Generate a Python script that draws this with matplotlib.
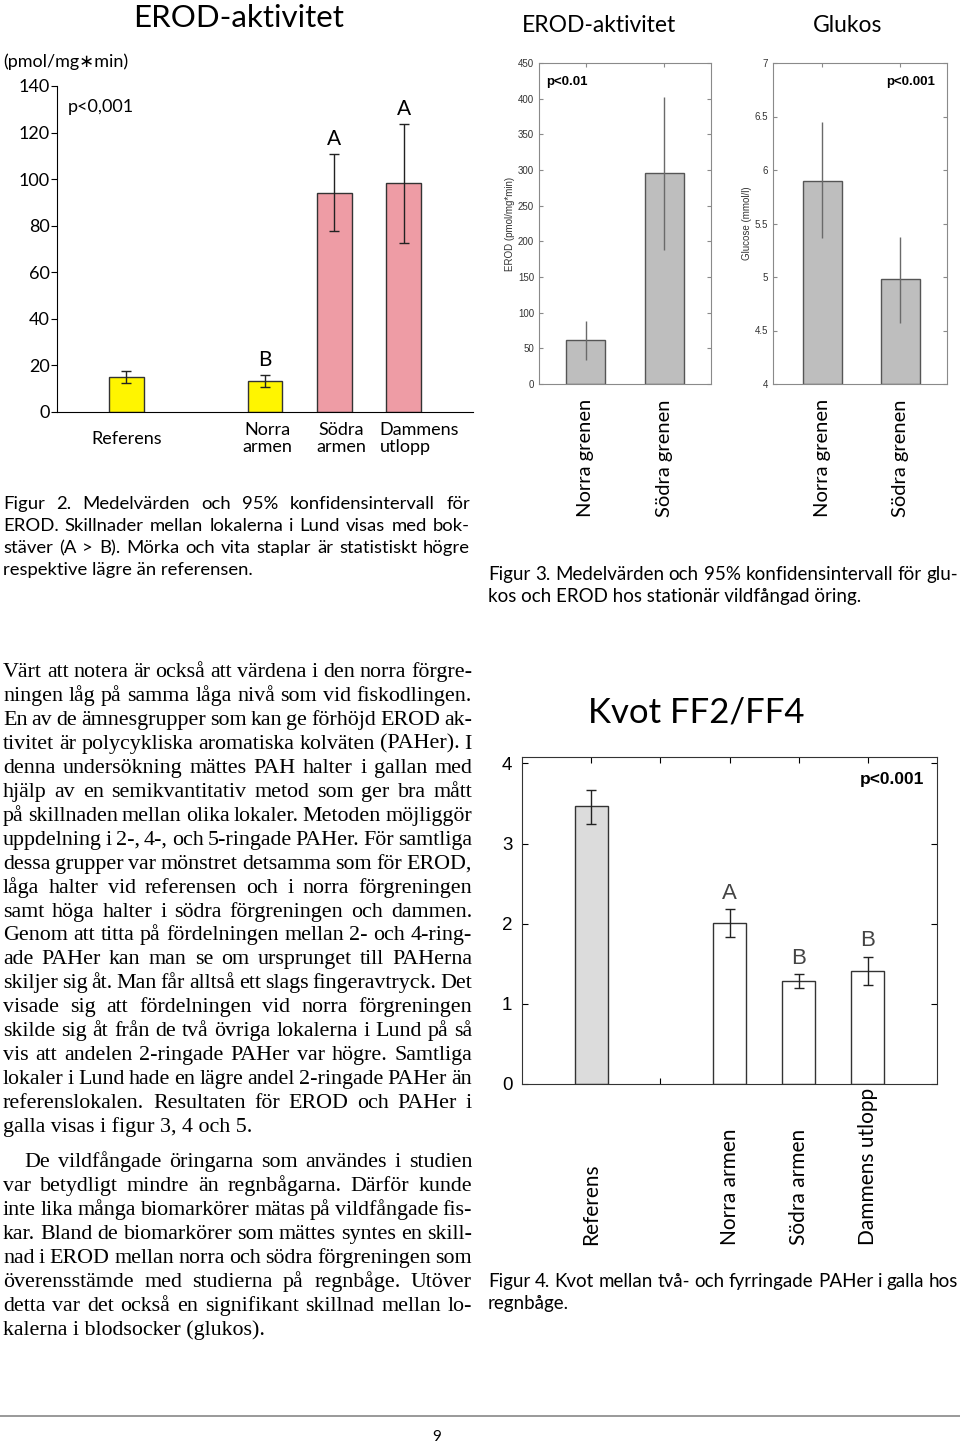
import matplotlib
matplotlib.use('Agg')
import matplotlib.pyplot as plt
from matplotlib.lines import Line2D

W, H = 960, 1446
fig = plt.figure(figsize=(W / 100, H / 100), dpi=100)

SANS = ['Lato', 'DejaVu Sans']
SERIF = ['Liberation Serif', 'DejaVu Serif']
ARIAL = ['Liberation Sans', 'DejaVu Sans']

# ---- data -------------------------------------------------------------
# Figur 2: EROD-aktivitet (pmol/mg*min)
fig2_pos = [0, 2, 3, 4]
fig2_mean = [15.2, 13.2, 94.2, 98.2]
fig2_lo = [12.6, 10.9, 77.9, 72.4]
fig2_hi = [17.6, 15.8, 110.9, 123.5]
fig2_letters = ['', 'B', 'A', 'A']
fig2_labels = ['Referens', 'Norra\narmen', 'Södra\narmen', 'Dammens\nutlopp']

# Figur 3: EROD och glukos, vildfångad öring
fig3_pos = [1, 2]
fig3_labels = ['Norra grenen', 'Södra grenen']
erod_mean = [61.3, 295.8]
erod_lo = [34.2, 188.4]
erod_hi = [88.3, 402.3]
glu_mean = [5.90, 4.98]
glu_lo = [5.36, 4.57]
glu_hi = [6.45, 5.37]

# Figur 4: Kvot FF2/FF4
fig4_pos = [0, 2, 3, 4]
fig4_mean = [3.47, 2.01, 1.28, 1.41]
fig4_lo = [3.25, 1.83, 1.20, 1.24]
fig4_hi = [3.67, 2.18, 1.37, 1.59]
fig4_letters = ['', 'A', 'B', 'B']
fig4_labels = ['Referens', 'Norra armen', 'Södra armen', 'Dammens utlopp']


def px_axes(l, t, r, b):
    return fig.add_axes([l / W, 1 - b / H, (r - l) / W, (b - t) / H])


def ptext(x, y, s, **kw):
    return fig.text(x / W, 1 - y / H, s, **kw)


renderer = fig.canvas.get_renderer()


def justify(s, x0, x1, y, **kw):
    words = s.split()
    objs = [ptext(0, y, w, va='baseline', ha='left', **kw) for w in words]
    widths = [o.get_window_extent(renderer).width for o in objs]
    gap = (x1 - x0 - sum(widths)) / max(len(words) - 1, 1)
    x = x0
    for o, w in zip(objs, widths):
        o.set_x(x / W)
        x += w + gap


def errs(mean, lo, hi):
    return [[m - l for m, l in zip(mean, lo)], [h - m for m, h in zip(mean, hi)]]


# ---- Figur 2 ------------------------------------------------------------
ax2 = px_axes(57, 86, 473, 412)
colors2 = ['#FFF500', '#FFF500', '#EE9CA5', '#EE9CA5']
ax2.bar(fig2_pos, fig2_mean, width=0.5, color=colors2, edgecolor='#333333', linewidth=1)
ax2.errorbar(fig2_pos, fig2_mean, yerr=errs(fig2_mean, fig2_lo, fig2_hi), fmt='none',
             ecolor='#222222', elinewidth=1, capsize=3.5)
for p, h, t in zip(fig2_pos, fig2_hi, fig2_letters):
    ax2.text(p, h + 6.5, t, ha='center', va='center', fontsize=15, family=SANS)
ax2.set_xlim(-1, 5)
ax2.set_ylim(0, 140)
ax2.set_yticks(range(0, 141, 20))
ax2.set_xticks([])
for s in ['top', 'right']:
    ax2.spines[s].set_visible(False)
ax2.tick_params(axis='y', labelsize=13, length=4, pad=1)
for lab in ax2.get_yticklabels():
    lab.set_family(SANS)
ax2.text(-0.85, 131, 'p<0,001', fontsize=13, family=SANS, va='center')
lab_off = [0, 0.03, 0.1, -0.35]
lab_y = [-0.083, -0.032, -0.032, -0.032]
lab_ha = ['center', 'center', 'center', 'left']
for p, s, o, yy, ha in zip(fig2_pos, fig2_labels, lab_off, lab_y, lab_ha):
    ax2.text(p + o, yy, s, transform=ax2.get_xaxis_transform(), ha=ha, va='top' if '\n' in s else 'center',
             fontsize=13, family=SANS, linespacing=1.05)
ptext(133, 27, 'EROD-aktivitet', fontsize=22.5, family=SANS, va='baseline')
ptext(3, 67, '(pmol/mg\u2217min)', fontsize=13, family=SANS, va='baseline')

cap2_kw = dict(fontsize=13.3, family=SANS)
cap_kw = dict(fontsize=13.5, family=SANS)
cap2 = ['Figur 2. Medelvärden och 95% konfidensintervall för',
        'EROD. Skillnader mellan lokalerna i Lund visas med bok-',
        'stäver (A > B). Mörka och vita staplar är statistiskt högre']
for i, line in enumerate(cap2):
    justify(line, 3, 470, 509 + 22 * i, **cap2_kw)
ptext(3, 575, 'respektive lägre än referensen.', va='baseline', **cap2_kw)

# ---- Figur 3 ------------------------------------------------------------
def matlab_style(ax):
    for s in ax.spines.values():
        s.set_color('#8a8a8a')
    ax.set_axisbelow(True)
    ax.tick_params(direction='in', top=True, right=True, length=3, labelsize=7,
                   color='#8a8a8a', labelcolor='#333333')
    ax.set_xticklabels([])


axE = px_axes(539, 63, 711, 384)
axE.bar(fig3_pos, erod_mean, width=0.5, color='#BEBEBE', edgecolor='#555555', linewidth=1)
axE.errorbar(fig3_pos, erod_mean, yerr=errs(erod_mean, erod_lo, erod_hi), fmt='none',
             ecolor='#6a6a6a', elinewidth=1, capsize=0)
axE.set_xlim(0.4, 2.6)
axE.set_ylim(0, 450)
axE.set_yticks(range(0, 451, 50))
axE.set_xticks(fig3_pos)
matlab_style(axE)
axE.set_ylabel('EROD (pmol/mg*min)', fontsize=7, family=ARIAL, color='#333333', labelpad=2)
axE.text(0.04, 0.94, 'p<0.01', transform=axE.transAxes, fontsize=9.5, fontweight='bold',
         family=ARIAL, va='center')

axG = px_axes(773, 63, 947, 384)
axG.bar(fig3_pos, [m - 4 for m in glu_mean], bottom=4, width=0.5, color='#BEBEBE',
        edgecolor='#555555', linewidth=1)
axG.errorbar(fig3_pos, glu_mean, yerr=errs(glu_mean, glu_lo, glu_hi), fmt='none',
             ecolor='#6a6a6a', elinewidth=1, capsize=0)
axG.set_xlim(0.37, 2.6)
axG.set_ylim(4, 7)
axG.set_yticks([4, 4.5, 5, 5.5, 6, 6.5, 7])
axG.set_yticklabels(['4', '4.5', '5', '5.5', '6', '6.5', '7'])
axG.set_xticks(fig3_pos)
matlab_style(axG)
axG.set_ylabel('Glucose (mmol/l)', fontsize=7, family=ARIAL, color='#333333', labelpad=2)
axG.text(0.93, 0.94, 'p<0.001', transform=axG.transAxes, fontsize=9.5, fontweight='bold',
         family=ARIAL, va='center', ha='right')

for ax in (axE, axG):
    for lab in ax.get_yticklabels():
        lab.set_family(ARIAL)
    for p, s in zip(fig3_pos, fig3_labels):
        ax.text(p, -133 / 321, s, transform=ax.get_xaxis_transform(), rotation=90,
                ha='center', va='bottom', fontsize=14.5, family=SANS)

ptext(599, 32, 'EROD-aktivitet', fontsize=16.5, family=SANS, ha='center', va='baseline')
ptext(848, 32, 'Glukos', fontsize=16.5, family=SANS, ha='center', va='baseline')
justify('Figur 3. Medelvärden och 95% konfidensintervall för glu-', 488, 958, 580, **cap_kw)
ptext(488, 602, 'kos och EROD hos stationär vildfångad öring.', va='baseline', **cap_kw)

# ---- Figur 4 ------------------------------------------------------------
ax4 = px_axes(522, 757, 937, 1084)
ax4.bar(fig4_pos, fig4_mean, width=0.48, color=['#DCDCDC', 'white', 'white', 'white'],
        edgecolor='#333333', linewidth=1)
ax4.errorbar(fig4_pos, fig4_mean, yerr=errs(fig4_mean, fig4_lo, fig4_hi), fmt='none',
             ecolor='#222222', elinewidth=1, capsize=3.5)
for p, h, t in zip(fig4_pos, fig4_hi, fig4_letters):
    ax4.text(p, h + 0.2, t, ha='center', va='center', fontsize=16, family=ARIAL, color='#444444')
ax4.set_xlim(-1, 5)
ax4.set_ylim(0, 4.08)
ax4.set_yticks(range(0, 5))
ax4.set_xticks(range(0, 5))
ax4.set_xticklabels([])
ax4.set_axisbelow(True)
for s in ax4.spines.values():
    s.set_color('#333333')
ax4.tick_params(direction='in', top=True, right=True, length=4, labelsize=13.5, pad=7)
for lab in ax4.get_yticklabels():
    lab.set_family(ARIAL)
ax4.text(0.97, 0.93, 'p<0.001', transform=ax4.transAxes, fontsize=12.5, fontweight='bold',
         family=ARIAL, ha='right', va='center')
for p, s in zip(fig4_pos, fig4_labels):
    ax4.text(p, -161 / 327, s, transform=ax4.get_xaxis_transform(), rotation=90,
             ha='center', va='bottom', fontsize=15, family=SANS)
ptext(696, 722, 'Kvot FF2/FF4', fontsize=25, family=SANS, ha='center', va='baseline')
justify('Figur 4. Kvot mellan två- och fyrringade PAHer i galla hos', 488, 958, 1287, **cap_kw)
ptext(488, 1309, 'regnbåge.', va='baseline', **cap_kw)

# ---- brödtext -----------------------------------------------------------
body1 = ['Värt att notera är också att värdena i den norra förgre-',
         'ningen låg på samma låga nivå som vid fiskodlingen.',
         'En av de ämnesgrupper som kan ge förhöjd EROD ak-',
         'tivitet är polycykliska aromatiska kolväten (PAHer). I',
         'denna undersökning mättes PAH halter i gallan med',
         'hjälp av en semikvantitativ metod som ger bra mått',
         'på skillnaden mellan olika lokaler. Metoden möjliggör',
         'uppdelning i 2-, 4-, och 5-ringade PAHer. För samtliga',
         'dessa grupper var mönstret detsamma som för EROD,',
         'låga halter vid referensen och i norra förgreningen',
         'samt höga halter i södra förgreningen och dammen.',
         'Genom att titta på fördelningen mellan 2- och 4-ring-',
         'ade PAHer kan man se om ursprunget till PAHerna',
         'skiljer sig åt. Man får alltså ett slags fingeravtryck. Det',
         'visade sig att fördelningen vid norra förgreningen',
         'skilde sig åt från de två övriga lokalerna i Lund på så',
         'vis att andelen 2-ringade PAHer var högre. Samtliga',
         'lokaler i Lund hade en lägre andel 2-ringade PAHer än',
         'referenslokalen. Resultaten för EROD och PAHer i']
body1_last = 'galla visas i figur 3, 4 och 5.'
body2 = ['De vildfångade öringarna som användes i studien',
         'var betydligt mindre än regnbågarna. Därför kunde',
         'inte lika många biomarkörer mätas på vildfångade fis-',
         'kar. Bland de biomarkörer som mättes syntes en skill-',
         'nad i EROD mellan norra och södra förgreningen som',
         'överensstämde med studierna på regnbåge. Utöver',
         'detta var det också en signifikant skillnad mellan lo-']
body2_last = 'kalerna i blodsocker (glukos).'

body_kw = dict(fontsize=15.8, family=SERIF)
y = 677
for line in body1:
    justify(line, 3, 472, y, **body_kw)
    y += 23.95
ptext(3, y, body1_last, va='baseline', **body_kw)
y = 1167
for i, line in enumerate(body2):
    justify(line, 24 if i == 0 else 3, 472, y, **body_kw)
    y += 24
ptext(3, y, body2_last, va='baseline', **body_kw)

# ---- sidfot -------------------------------------------------------------
fig.add_artist(Line2D([0, 1], [1 - 1416 / H] * 2, color='#888888', lw=1.2))
ptext(437, 1437, '9', fontsize=11, family=SANS, ha='center', va='center')

fig.savefig('out.png', dpi=100)
